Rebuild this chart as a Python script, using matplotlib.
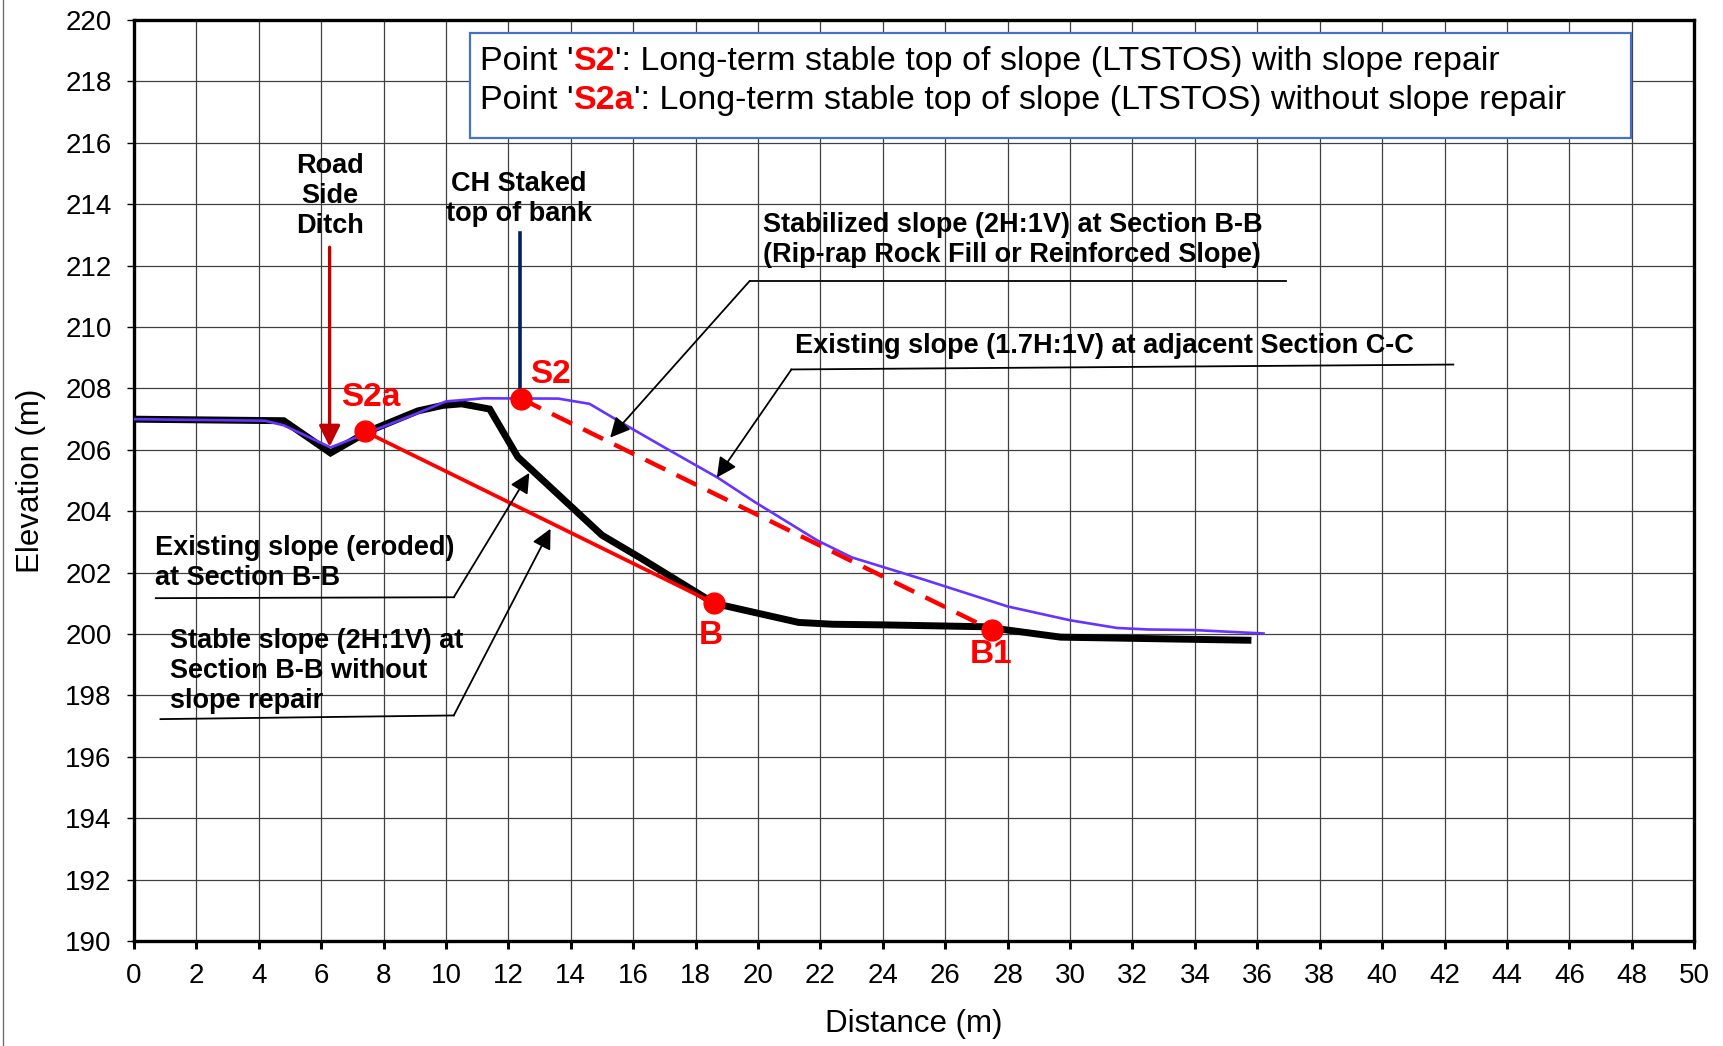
import matplotlib.pyplot as plt
from matplotlib.patches import Rectangle
from matplotlib.lines import Line2D

plt.rcParams['font.family'] = ['Liberation Sans', 'DejaVu Sans']

# existing (eroded) slope at section B-B
eroded_x = [0, 4.8, 6.3, 7.5, 9.1, 9.9, 10.5, 11.4, 12.3, 15.0, 16.2, 18.6, 21.3, 22.4, 24.0, 27.2, 29.7, 35.7]
eroded_y = [207.0, 206.95, 205.9, 206.6, 207.27, 207.45, 207.5, 207.33, 205.77, 203.22, 202.5, 201.0, 200.38, 200.32, 200.3, 200.24, 199.9, 199.8]

# existing slope at adjacent section C-C
cc_x = [0, 4.2, 4.8, 6.3, 7.5, 9.1, 10.0, 11.2, 13.6, 14.6, 15.6, 17.0, 18.7, 19.9, 21.9, 23.0, 25.3, 28.0, 30.0, 31.5, 32.5, 34.0, 36.2]
cc_y = [207.0, 206.95, 206.8, 206.08, 206.56, 207.2, 207.58, 207.68, 207.67, 207.5, 206.9, 206.08, 205.1, 204.3, 203.05, 202.5, 201.78, 200.9, 200.45, 200.2, 200.15, 200.13, 200.02]

# key points
pt_names = ['S2a', 'S2', 'B', 'B1']
pt_x = [7.4, 12.4, 18.6, 27.5]
pt_y = [206.6, 207.67, 201.0, 200.13]

xticks = list(range(0, 51, 2))
yticks = list(range(190, 221, 2))

fig = plt.figure(figsize=(17.24, 10.46), dpi=100)
ax = fig.add_axes([0.0777, 0.1003, 0.905, 0.8805])

# lines
ax.plot(eroded_x, eroded_y, color='black', lw=5.0, solid_joinstyle='miter', zorder=3)
ax.plot(cc_x, cc_y, color='#6633FF', lw=1.9, zorder=4)
ax.plot([pt_x[0], pt_x[2]], [pt_y[0], pt_y[2]], color='#FF0000', lw=2.7, zorder=5)
ax.plot([pt_x[1], pt_x[3]], [pt_y[1], pt_y[3]], color='#FF0000', lw=3.2, ls=(0, (5, 2.8)), zorder=5)
ax.plot(pt_x, pt_y, 'o', color='#FF0000', ms=15, zorder=6)

lbl = dict(color='#FF0000', fontsize=24, fontweight='bold', ha='center', va='center', zorder=7)
ax.text(7.58, 207.72, pt_names[0], **lbl)
ax.text(13.35, 208.47, pt_names[1], **lbl)
ax.text(18.5, 199.95, pt_names[2], **lbl)
ax.text(27.48, 199.33, pt_names[3], **lbl)

# road side ditch arrow and staked top of bank
ax.annotate('', xy=(6.27, 206.1), xytext=(6.27, 212.6),
            arrowprops=dict(arrowstyle='-|>', color='#C00000', lw=2.4, mutation_scale=32,
                            shrinkA=0, shrinkB=0), zorder=6)
ax.plot([12.37, 12.37], [213.05, 207.85], color='#002060', lw=2.6, zorder=5)

bold = dict(fontsize=19.5, fontweight='bold', color='black', zorder=7)
ax.text(6.27, 214.27, 'Road\nSide\nDitch', ha='center', va='center', multialignment='center', **bold)
ax.text(12.33, 214.18, 'CH Staked\ntop of bank', ha='center', va='center', multialignment='center', **bold)
ax.text(20.15, 212.84, 'Stabilized slope (2H:1V) at Section B-B\n(Rip-rap Rock Fill or Reinforced Slope)',
        ha='left', va='center', **bold)
ax.text(21.18, 209.4, 'Existing slope (1.7H:1V) at adjacent Section C-C', ha='left', va='center', **bold)
ax.text(0.67, 202.31, 'Existing slope (eroded)\nat Section B-B', ha='left', va='center', **bold)
ax.text(1.16, 198.8, 'Stable slope (2H:1V) at\nSection B-B without\nslope repair', ha='left', va='center', **bold)

# leader lines with arrows
leaders = [
    ((36.93, 211.5), (19.73, 211.5), (15.26, 206.4)),
    ((42.28, 208.78), (21.07, 208.62), (18.68, 205.1)),
    ((0.7, 201.17), (10.25, 201.2), (12.67, 205.25)),
    ((0.85, 197.23), (10.25, 197.35), (13.35, 203.43)),
]
for end, corner, tip in leaders:
    ax.plot([end[0], corner[0]], [end[1], corner[1]], color='black', lw=1.3, zorder=6)
    ax.annotate('', xy=tip, xytext=corner,
                arrowprops=dict(arrowstyle='-|>', color='black', lw=1.3, mutation_scale=30,
                                shrinkA=0, shrinkB=0), zorder=6)

# note box
ax.add_patch(Rectangle((10.78, 216.17), 47.99 - 10.78, 219.57 - 216.17, facecolor='white',
                       edgecolor='#4472C4', lw=1.6, zorder=8))
for yy, name, rest in [(218.66, 'S2', "': Long-term stable top of slope (LTSTOS) with slope repair"),
                       (217.37, 'S2a', "': Long-term stable top of slope (LTSTOS) without slope repair")]:
    t = ax.text(11.1, yy, "Point '", fontsize=24.5, va='center', ha='left', zorder=9)
    t = ax.annotate(name, xy=(1, 0), xycoords=t, va='bottom', ha='left', fontsize=24.5,
                    fontweight='bold', color='#FF0000', zorder=9)
    ax.annotate(rest, xy=(1, 0), xycoords=t, va='bottom', ha='left', fontsize=24.5, zorder=9)

# axes
ax.set_xlim(0, 50)
ax.set_ylim(190, 220)
ax.set_xticks(xticks)
ax.set_yticks(yticks)
ax.grid(True, color='#404040', lw=0.9)
ax.set_axisbelow(True)
for s in ax.spines.values():
    s.set_linewidth(2.4)
ax.tick_params(axis='x', labelsize=20, length=6, width=2.2, direction='out', pad=10)
ax.tick_params(axis='y', labelsize=20, length=5, width=1.0, direction='out', pad=11)
ax.set_xlabel('Distance (m)', fontsize=22.5, labelpad=14)
ax.set_ylabel('Elevation (m)', fontsize=22.5, labelpad=14)

fig.add_artist(Line2D([3.5 / 1724, 3.5 / 1724], [0, 1], color='#707070', lw=1.0))

fig.savefig('out.png', dpi=100)
